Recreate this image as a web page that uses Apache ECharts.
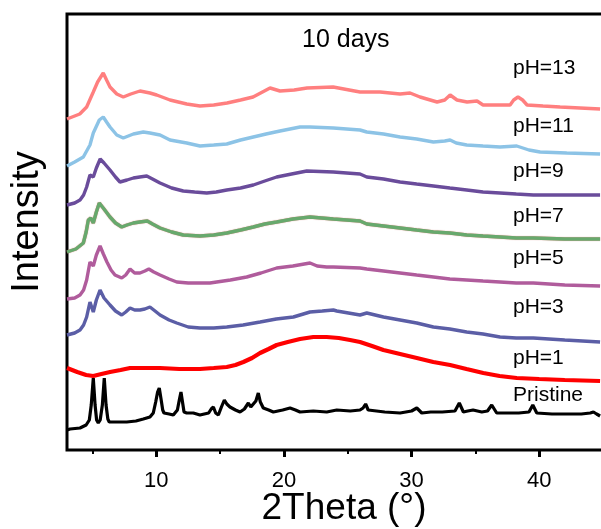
<!DOCTYPE html>
<html><head><meta charset="utf-8">
<script src="https://cdn.jsdelivr.net/npm/echarts@6/dist/echarts.min.js"></script>
<style>html,body{margin:0;padding:0;background:#fff}#c{width:601px;height:529px}</style>
</head><body><div id="c"></div>
<script>
// ---- data (2Theta in degrees, intensity in arbitrary offset units) ----
const tickLabels = [10, 20, 30, 40];
const minorTicks = [5, 15, 25, 35];
const seriesNames = ['Pristine', 'pH=1', 'pH=3', 'pH=5', 'pH=7', 'pH=9', 'pH=11', 'pH=13'];
const titleText = '10 days';

const pristine = [[3.0,20],[3.24,21],[4.02,22],[4.5,25],[4.75,30],[4.9,45],[5.06,72],[5.2,45],[5.32,30],[5.45,27],[5.6,30],[5.77,45],[5.92,72],[6.06,45],[6.2,31],[6.31,28],[7.0,28],[7.68,28],[8.4,29],[8.98,31],[9.5,33],[9.76,37],[9.95,48],[10.1,58],[10.23,62],[10.38,50],[10.5,40],[10.6,37],[11.0,36],[11.33,35],[11.65,40],[11.8,50],[11.93,58],[12.05,48],[12.17,38],[12.38,37],[12.9,37],[13.42,35],[14.1,37],[14.3,41],[14.47,43],[14.65,37],[14.86,35],[15.1,43],[15.33,50],[15.52,46],[15.77,43],[16.2,40],[16.56,38],[16.9,41],[17.21,47],[17.4,43],[17.55,42],[17.8,49],[17.99,57],[18.15,48],[18.38,42],[18.8,40],[19.17,38],[19.9,40],[20.48,42],[20.9,40],[21.26,38],[22.3,39],[23.35,38],[24.14,40],[25.2,39],[25.96,40],[26.2,42],[26.4,46],[26.6,40],[26.75,38],[27.9,38],[29.1,37],[30.0,39],[30.41,42],[30.8,37],[31.5,38],[32.4,38],[33.4,39],[33.74,47],[34.06,38],[34.4,39],[34.82,40],[35.5,38],[35.95,39],[36.28,45],[36.67,37],[37.5,37],[38.4,37],[39.2,38],[39.5,45],[39.81,37],[41.0,36],[42.16,36],[43.3,36],[44.0,37],[44.25,38],[44.5,36],[44.77,34]];

const pH1 = [[3.0,82],[3.8,78],[4.5,75],[5.06,74],[5.7,76],[6.37,78],[7.2,80],[7.94,82],[9.0,82],[10.29,82],[11.8,81],[13.42,81],[14.5,82],[15.52,83],[16.2,85],[16.82,88],[17.5,92],[18.13,97],[18.8,101],[19.43,105],[20.3,108],[21.26,111],[22.3,113],[23.35,113],[24.3,112],[25.18,110],[25.96,108],[26.9,104],[27.79,100],[29.1,96],[30.41,92],[31.7,88],[33.02,85],[34.3,81],[35.62,77],[36.9,74],[38.24,72],[40.0,71],[42.0,70],[44.77,69]];

const pH3 = [[3.0,115],[3.6,117],[4.02,120],[4.3,125],[4.54,133],[4.8,148],[5.06,138],[5.3,150],[5.59,160],[5.9,152],[6.37,145],[6.8,139],[7.29,135],[7.6,138],[7.94,142],[8.3,140],[8.72,140],[9.1,141],[9.5,143],[9.9,139],[10.29,135],[11.0,130],[11.6,127],[12.5,123],[13.42,122],[14.5,122],[15.52,123],[16.8,125],[18.13,128],[19.4,131],[20.74,133],[22.04,138],[23.0,139],[23.87,140],[24.14,139],[25.96,135],[26.49,137],[27.8,133],[29.1,130],[30.4,127],[31.71,123],[33.0,121],[34.32,118],[35.6,116],[36.93,113],[38.2,112],[39.54,112],[42.0,110],[44.77,108]];

const pH5 = [[3.0,151],[3.6,152],[4.02,155],[4.3,160],[4.54,170],[4.8,188],[5.06,184],[5.3,195],[5.59,204],[5.85,196],[6.13,188],[6.45,180],[6.76,175],[7.29,172],[7.6,175],[7.94,181],[8.3,177],[8.72,177],[9.1,179],[9.41,181],[9.8,178],[10.29,175],[11.0,171],[11.6,168],[12.5,167],[13.42,167],[14.2,167],[14.73,168],[15.8,170],[17.08,173],[18.2,177],[19.43,182],[20.7,184],[22.04,187],[22.6,184],[23.35,183],[23.87,183],[25.96,182],[26.49,181],[27.8,179],[29.1,177],[30.4,175],[31.71,173],[33.0,171],[34.32,170],[35.6,169],[36.93,168],[38.2,167],[39.54,167],[42.0,165],[44.77,164]];

const pH7 = [[3.0,198],[3.7,201],[4.28,207],[4.5,218],[4.67,230],[4.86,232],[5.06,227],[5.3,238],[5.53,247],[5.9,241],[6.37,233],[6.8,227],[7.29,223],[7.7,225],[8.2,227],[8.7,228],[9.29,229],[9.7,226],[10.29,222],[11.2,218],[12.11,215],[13.42,214],[14.5,215],[15.52,217],[16.6,220],[17.6,223],[18.5,226],[19.43,228],[20.7,231],[22.04,233],[23.87,231],[25.96,229],[26.49,226],[27.8,224],[29.1,222],[30.4,220],[31.71,218],[33.0,217],[34.32,215],[35.6,214],[36.93,213],[38.2,212],[39.54,212],[42.0,211],[44.77,211]];

const pH9 = [[3.0,245],[3.6,247],[4.02,250],[4.3,255],[4.54,263],[4.8,275],[5.06,273],[5.3,282],[5.6,291],[5.9,287],[6.37,280],[6.8,273],[7.15,268],[7.7,270],[8.2,272],[8.7,273],[9.25,274],[9.7,271],[10.29,267],[11.2,262],[12.11,259],[13.0,258],[13.95,257],[14.7,258],[15.52,260],[16.6,262],[17.6,265],[18.5,269],[19.43,273],[20.6,276],[21.79,279],[23.87,278],[25.96,276],[26.49,273],[27.8,271],[29.1,268],[30.4,266],[31.71,264],[33.0,262],[34.32,260],[35.6,258],[36.93,257],[38.2,256],[39.54,255],[42.0,255],[44.77,255]];

const pH11 = [[3.0,284],[3.6,288],[4.28,293],[4.8,305],[5.06,317],[5.53,330],[5.84,333],[6.1,328],[6.37,323],[6.9,315],[7.41,312],[8.2,316],[8.98,318],[9.5,317],[10.29,315],[11.07,310],[12.38,307],[13.42,304],[14.5,305],[15.52,306],[16.6,310],[17.6,313],[18.6,316],[19.69,319],[21.26,323],[22.04,323],[23.87,322],[25.96,320],[26.49,318],[27.8,316],[29.1,313],[30.4,311],[31.71,308],[32.6,309],[33.02,310],[33.5,307],[34.32,305],[35.6,304],[36.93,303],[38.24,304],[39.2,300],[40.07,298],[42.16,297],[44.77,296]];

const pH13 = [[3.0,331],[4.0,336],[4.54,343],[5.06,358],[5.4,368],[5.84,377],[6.1,370],[6.37,363],[6.9,356],[7.41,353],[8.0,356],[8.72,359],[9.5,357],[10.03,355],[11.07,350],[12.38,346],[13.42,344],[14.5,345],[15.54,347],[16.6,350],[17.58,353],[18.91,362],[19.69,359],[20.8,360],[21.81,362],[23.85,363],[25.96,358],[27.53,358],[29.1,356],[29.88,357],[30.66,353],[32.0,348],[32.6,350],[33.02,355],[33.56,350],[34.35,348],[35.13,349],[35.6,345],[36.7,345],[37.72,345],[38.0,350],[38.34,353],[38.7,350],[39.05,345],[40.3,344],[41.64,343],[43.2,342],[44.77,341]];

const seriesData = [pristine, pH1, pH3, pH5, pH7, pH9, pH11, pH13];

// ---- styles ----
const colors = ['#000000', '#FF0000', '#5B5EA6', '#B05C9C', '#67A96D', '#6A4C9B', '#8CC3E6', '#FF7F7F'];
const widths = [3.2, 4.2, 3.4, 3.4, 3.4, 3.4, 3.4, 3.4];
const labelPos = [[513, 396], [513, 359], [513, 308], [513, 259], [513, 217], [513, 172], [513, 127], [513, 69]];
const FONT = '"Liberation Sans", Arial, Helvetica, sans-serif';

const chart = echarts.init(document.getElementById('c'), null, {renderer: 'canvas'});

const series = seriesData.map((d, i) => ({
  name: seriesNames[i],
  type: 'line',
  data: d,
  showSymbol: false,
  symbol: 'none',
  animation: false,
  lineStyle: Object.assign({color: colors[i], width: widths[i]},
    i === 4 ? {shadowColor: 'rgba(200,90,80,0.8)', shadowBlur: 1} : {}),
  z: 2 + i
}));

const graphics = seriesNames.map((n, i) => ({
  type: 'text',
  left: labelPos[i][0],
  top: labelPos[i][1] - 11,
  style: {text: n, fontSize: 21, fontFamily: FONT, fill: '#000'}
}));
graphics.push({
  type: 'text', left: 302, top: 41 - 13,
  style: {text: titleText, fontSize: 25, fontFamily: FONT, fill: '#000'}
});

chart.setOption({
  backgroundColor: '#fff',
  animation: false,
  grid: {left: 67, top: 14, right: -2, bottom: 79, containLabel: false, outerBoundsMode: 'none',
    show: true, borderColor: '#000', borderWidth: 3, backgroundColor: 'transparent'},
  xAxis: [{
    type: 'value', min: 3, max: 45,
    name: '2Theta (°)', nameLocation: 'middle', nameGap: 40, nameMoveOverlap: false,
    nameTextStyle: {fontSize: 37, fontFamily: FONT, color: '#000', padding: [0, 0, 0, 18]},
    axisLine: {show: false},
    axisTick: {show: true, length: 7, lineStyle: {color: '#000', width: 3}, customValues: tickLabels},
    axisLabel: {show: true, fontSize: 22, fontFamily: FONT, color: '#000', margin: 20, customValues: tickLabels},
    splitLine: {show: false}
  }, {
    type: 'value', min: 3, max: 45, position: 'bottom',
    axisLine: {show: false},
    axisTick: {show: true, length: 4, lineStyle: {color: '#000', width: 2}, customValues: minorTicks},
    axisLabel: {show: false},
    splitLine: {show: false}
  }],
  yAxis: {
    type: 'value', min: 0, max: 436,
    name: 'Intensity', nameLocation: 'middle', nameGap: 20, nameRotate: 90, nameMoveOverlap: false,
    nameTextStyle: {fontSize: 38, fontFamily: FONT, color: '#000', padding: [0, 0, 0, 20]},
    axisLine: {show: false}, axisTick: {show: false}, axisLabel: {show: false}, splitLine: {show: false}
  },
  series: series,
  graphic: graphics
});
</script>
</body></html>
